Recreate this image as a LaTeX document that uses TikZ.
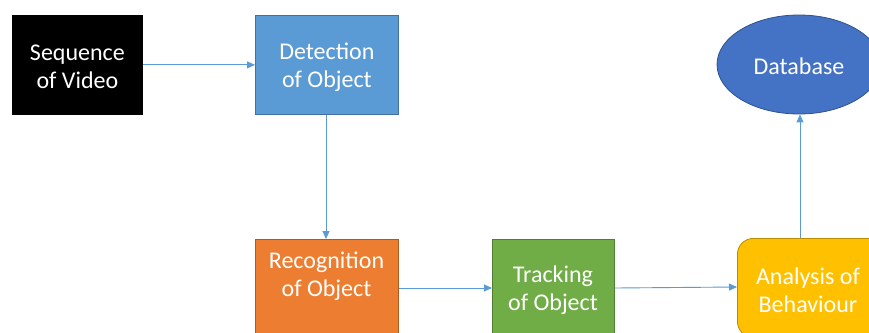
\documentclass[tikz,border=0pt]{standalone}
\usepackage{fontspec}
\setmainfont{Carlito}
\usetikzlibrary{arrows.meta,shapes.geometric}
\definecolor{cblue}{HTML}{5B9BD5}
\definecolor{cblueb}{HTML}{41719C}
\definecolor{corange}{HTML}{ED7D31}
\definecolor{corangeb}{HTML}{AE5A21}
\definecolor{cgreen}{HTML}{70AD47}
\definecolor{cgreenb}{HTML}{507E32}
\definecolor{cyellow}{HTML}{FFC000}
\definecolor{cyellowb}{HTML}{BC8C00}
\definecolor{cdb}{HTML}{4472C4}
\definecolor{cdbb}{HTML}{2F528F}
\tikzset{
  box/.style={rectangle, line width=0.8pt, inner sep=0pt, anchor=north west},
  txt/.style={text=white, align=center, font=\fontsize{24}{28}\selectfont, inner sep=0pt},
  conn/.style={draw=cblue, line width=0.9pt, -{Triangle[length=8pt,width=7pt]}},
}
\begin{document}
\begin{tikzpicture}[x=1pt,y=-1pt]
\useasboundingbox (0,0) rectangle (869,332);
\clip (0,0) rectangle (869,332);
\fill[white] (0,0) rectangle (869,332);
% boxes
\node[box, fill=black, draw=black, minimum width=130pt, minimum height=99pt] (seq) at (12,15) {};
\node[box, fill=cblue, draw=cblueb, minimum width=143pt, minimum height=99pt] (det) at (255,15) {};
\node[box, fill=corange, draw=corangeb, minimum width=143pt, minimum height=99pt] (rec) at (255,239) {};
\node[box, fill=cgreen, draw=cgreenb, minimum width=122pt, minimum height=99pt] (trk) at (492,239) {};
\node[box, fill=cyellow, draw=cyellowb, rounded corners=16pt, minimum width=150pt, minimum height=99pt] (ana) at (737,238) {};
\node[ellipse, fill=cdb, draw=cdbb, line width=0.8pt, minimum width=164pt, minimum height=99pt, inner sep=0pt] (db) at (799,64.5) {};
% texts
\node[txt] (tseq) at ([yshift=-2pt]seq.center) {Sequence\\of Video};
\node[txt] (tdet) at ([yshift=-2pt]det.center) {Detection\\of Object};
\node[txt] (trec) at (326.5,276) {Recognition\\of Object};
\node[txt] (ttrk) at (553,290.5) {Tracking\\of Object};
\node[txt] (tana) at (808,290.5) {Analysis of\\Behaviour};
\node[txt] (tdb) at ([yshift=-2pt]db.center) {Database};
% connectors
\draw[conn] (seq.east) -- (det.west);
\draw[conn] (det.south -| 326,0) -- (rec.north -| 326,0);
\draw[conn] (rec.east |- 0,288) -- (trk.west |- 0,288);
\draw[conn] (trk.east |- 0,288) -- (ana.west |- 0,287);
\draw[conn] (ana.north -| 800,0) -- (db.south -| 800,0);
\end{tikzpicture}
\end{document}
